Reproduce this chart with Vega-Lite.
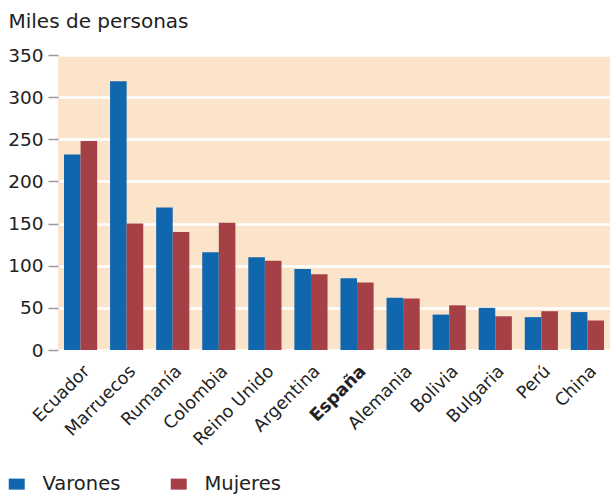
{
  "$schema": "https://vega.github.io/schema/vega-lite/v6.json",
  "width": 552,
  "height": 295,
  "autosize": {"type": "none"},
  "padding": {"left": 58, "top": 55, "right": 0, "bottom": 147},
  "background": "white",
  "config": {
    "view": {"fill": "#fce4ca", "stroke": null},
    "font": "DejaVu Sans"
  },
  "data": {
    "values": [
      {"pais": "Ecuador", "sexo": "Varones", "valor": 232},
      {"pais": "Ecuador", "sexo": "Mujeres", "valor": 248},
      {"pais": "Marruecos", "sexo": "Varones", "valor": 319},
      {"pais": "Marruecos", "sexo": "Mujeres", "valor": 150},
      {"pais": "Rumanía", "sexo": "Varones", "valor": 169},
      {"pais": "Rumanía", "sexo": "Mujeres", "valor": 140},
      {"pais": "Colombia", "sexo": "Varones", "valor": 116},
      {"pais": "Colombia", "sexo": "Mujeres", "valor": 151},
      {"pais": "Reino Unido", "sexo": "Varones", "valor": 110},
      {"pais": "Reino Unido", "sexo": "Mujeres", "valor": 106},
      {"pais": "Argentina", "sexo": "Varones", "valor": 96},
      {"pais": "Argentina", "sexo": "Mujeres", "valor": 90},
      {"pais": "España", "sexo": "Varones", "valor": 85},
      {"pais": "España", "sexo": "Mujeres", "valor": 80},
      {"pais": "Alemania", "sexo": "Varones", "valor": 62},
      {"pais": "Alemania", "sexo": "Mujeres", "valor": 61},
      {"pais": "Bolivia", "sexo": "Varones", "valor": 42},
      {"pais": "Bolivia", "sexo": "Mujeres", "valor": 53},
      {"pais": "Bulgaria", "sexo": "Varones", "valor": 50},
      {"pais": "Bulgaria", "sexo": "Mujeres", "valor": 40},
      {"pais": "Perú", "sexo": "Varones", "valor": 39},
      {"pais": "Perú", "sexo": "Mujeres", "valor": 46},
      {"pais": "China", "sexo": "Varones", "valor": 45},
      {"pais": "China", "sexo": "Mujeres", "valor": 35}
    ]
  },
  "mark": {"type": "bar"},
  "encoding": {
    "x": {
      "field": "pais",
      "type": "nominal",
      "sort": null,
      "scale": {"paddingInner": 0.28, "paddingOuter": 0.13},
      "axis": {
        "title": null,
        "labelAngle": -45,
        "labelFontSize": 17.5,
        "labelColor": "#222222",
        "labelPadding": 12,
        "domain": false,
        "ticks": false,
        "grid": false,
        "labelFontWeight": {"condition": {"test": "datum.value === 'España'", "value": "bold"}, "value": "normal"}
      }
    },
    "xOffset": {"field": "sexo", "sort": ["Varones", "Mujeres"], "scale": {"paddingInner": 0, "paddingOuter": 0}},
    "y": {
      "field": "valor",
      "type": "quantitative",
      "scale": {"domain": [0, 350]},
      "axis": {
        "values": [0, 50, 100, 150, 200, 250, 300, 350],
        "title": "Miles de personas",
        "titleAngle": 0,
        "titleAlign": "left",
        "titleBaseline": "alphabetic",
        "titleX": -50,
        "titleY": -28,
        "titleFontSize": 20,
        "titleFontWeight": "normal",
        "titleColor": "#222222",
        "labelFontSize": 18.5,
        "labelColor": "#222222",
        "labelPadding": 5,
        "domain": false,
        "tickColor": "#999999",
        "tickSize": 10,
        "tickWidth": 1.5,
        "grid": true,
        "gridColor": "white",
        "gridWidth": 2.5,
        "gridOpacity": 1
      }
    },
    "color": {
      "field": "sexo",
      "type": "nominal",
      "sort": ["Varones", "Mujeres"],
      "scale": {"domain": ["Varones", "Mujeres"], "range": ["#1167ae", "#a54146"]},
      "legend": {
        "title": null,
        "orient": "none",
        "direction": "horizontal",
        "legendX": -51,
        "legendY": 419,
        "symbolType": "M-1,-0.69L1,-0.69L1,0.69L-1,0.69Z",
        "symbolSize": 256,
        "symbolOpacity": 1,
        "symbolStrokeWidth": 0,
        "labelFontSize": 19.5,
        "labelColor": "#222222",
        "labelOffset": 16,
        "columnPadding": 48
      }
    }
  }
}
